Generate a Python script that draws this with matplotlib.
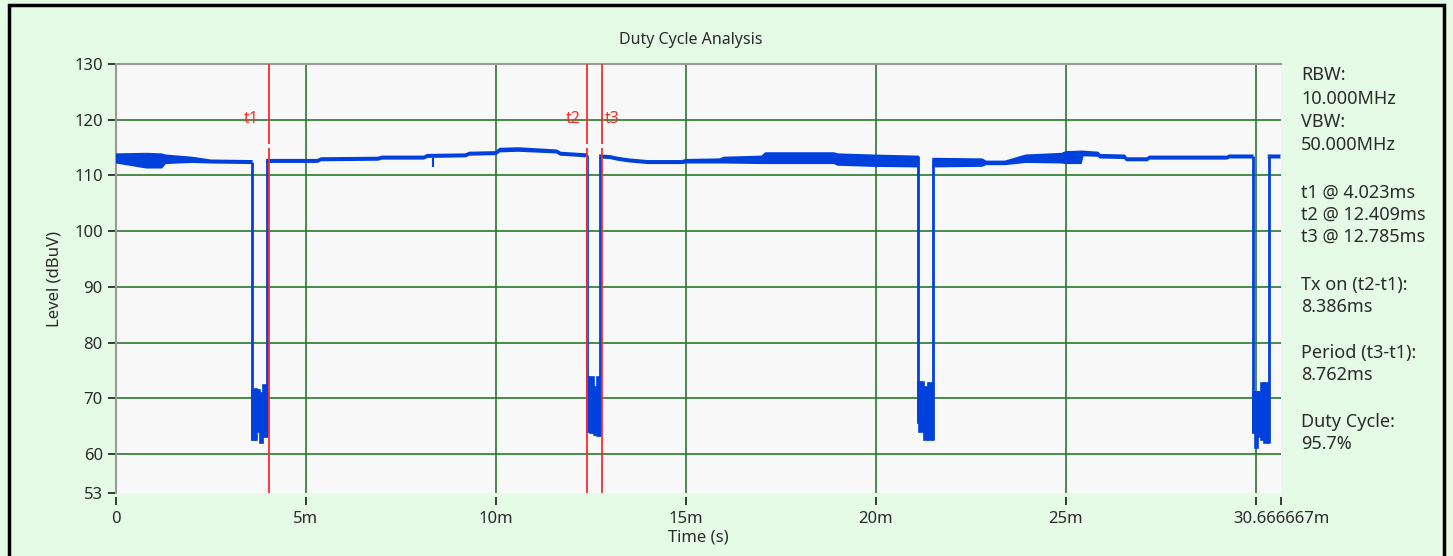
import numpy as np
import matplotlib.pyplot as plt
from matplotlib.patches import Rectangle

plt.rcParams['font.family'] = ['Noto Sans', 'DejaVu Sans']

# cursor positions (ms)
t1, t2, t3 = 4.023, 12.409, 12.785
rbw = '10.000MHz'
vbw = '50.000MHz'

x_ticks = [0, 5, 10, 15, 20, 25, 30, 30.666667]
x_labels = ['0', '5m', '10m', '15m', '20m', '25m', '', '30.666667m']
y_ticks = [53, 60, 70, 80, 90, 100, 110, 120, 130]
x_grid = [5, 10, 15, 20, 25, 30]
y_grid = [60, 70, 80, 90, 100, 110, 120]

nan = np.nan
# envelope of the trace while Tx is on (ms, dBuV); nan = gap at an off burst
trace_t = [0.0, 0.8, 1.2, 1.3, 2.0, 2.5, 3.575, 3.7,
           3.97, 5.3, 5.4, 6.9, 7.0, 8.1, 8.2, 9.2, 9.3, 10.0, 10.1, 10.6, 11.6, 11.7, 12.39, 12.5,
           12.74, 13.0, 13.2, 13.5, 14.0, 14.9, 15.0, 15.9, 16.0, 17.0, 17.1, 18.9, 19.0, 19.9, 21.11, 21.3,
           21.51, 22.8, 22.9, 23.4, 23.95, 24.9, 25.0, 25.4, 25.45, 25.85, 25.9, 26.55, 26.6, 27.15, 27.2,
           29.25, 29.3, 29.92, 30.1,
           30.34, 30.63]
trace_hi = [113.8, 113.9, 113.8, 113.6, 113.2, 112.7, 112.6, nan,
            112.8, 112.8, 113.1, 113.2, 113.4, 113.4, 113.7, 113.8, 114.1, 114.2, 114.8, 114.9, 114.5, 114.1, 113.8, nan,
            113.6, 113.5, 113.2, 112.9, 112.6, 112.6, 112.8, 112.9, 113.2, 113.4, 114.0, 114.0, 113.8, 113.6, 113.4, nan,
            113.0, 112.9, 112.5, 112.5, 113.6, 113.9, 114.2, 114.3, 114.3, 114.1, 113.7, 113.6, 113.1, 113.1, 113.4,
            113.4, 113.6, 113.6, nan,
            113.6, 113.6]
trace_lo = [112.3, 111.4, 111.4, 112.2, 112.4, 112.3, 112.2, nan,
            112.4, 112.4, 112.7, 112.8, 113.0, 113.0, 113.3, 113.4, 113.7, 113.8, 114.3, 114.4, 114.1, 113.7, 113.4, nan,
            113.2, 113.1, 112.8, 112.5, 112.2, 112.2, 112.3, 112.3, 112.3, 112.2, 112.2, 112.2, 111.9, 111.7, 111.6, nan,
            111.6, 111.7, 112.0, 112.0, 112.4, 112.3, 112.2, 112.2, 113.6, 113.5, 113.2, 113.1, 112.7, 112.7, 113.0,
            113.0, 113.2, 113.2, nan,
            113.2, 113.2]

# off bursts: falling / rising edge times and levels
fall_t = [3.575, 12.39, 21.11, 29.92]
rise_t = [3.97, 12.74, 21.51, 30.34]
fall_top = [112.5, 113.7, 113.4, 113.5]
rise_top = [112.7, 113.5, 113.0, 113.5]

# noisy floor inside each off burst (step starts, last entry = burst end)
dip_t = [[3.575, 3.65, 3.71, 3.79, 3.86, 3.97],
         [12.39, 12.48, 12.57, 12.65, 12.74],
         [21.11, 21.15, 21.28, 21.37, 21.51],
         [29.92, 29.99, 30.07, 30.13, 30.23, 30.34]]
dip_top = [[71.5, 71.7, 71.5, 71.0, 72.4],
           [73.9, 73.9, 72.1, 73.9],
           [73.0, 73.0, 72.1, 72.7],
           [71.2, 71.2, 71.2, 72.7, 72.7]]
dip_bot = [[62.5, 62.5, 64.0, 62.0, 63.0],
           [64.0, 63.8, 63.5, 63.2],
           [65.5, 64.0, 62.5, 62.5],
           [63.8, 61.1, 63.0, 62.5, 62.0]]

spike_t = [8.35]
spike_lo = [111.6]
spike_hi = [113.2]

blue = '#0040dd'
green = '#2a7a2a'
red = '#ff2a2a'
txt = '#2b2b2b'

fig = plt.figure(figsize=(14.53, 5.56), dpi=100, facecolor='#e6fbe6')
ax = fig.add_axes([116/1453, 1 - 493/556, (1281-116)/1453, (493-64)/556])
ax.set_facecolor('#f8f8f8')

for x in x_grid:
    ax.axvline(x, color=green, lw=1.2, zorder=1)
for y in y_grid:
    ax.axhline(y, color=green, lw=1.2, zorder=1)

ax.fill_between(trace_t, trace_lo, trace_hi, color=blue, lw=0, zorder=3)
ax.plot(trace_t, trace_hi, color=blue, lw=1.3, zorder=3)
ax.plot(trace_t, trace_lo, color=blue, lw=1.3, zorder=3)
ax.vlines(spike_t, spike_lo, spike_hi, color=blue, lw=1.5, zorder=3)

for i in range(len(fall_t)):
    starts = np.array(dip_t[i][:-1])
    widths = np.diff(dip_t[i])
    tops = np.array(dip_top[i])
    bots = np.array(dip_bot[i])
    ax.bar(starts, tops - bots, width=widths, bottom=bots, align='edge',
           color=blue, edgecolor=blue, lw=1.2, zorder=3)
    ax.vlines(fall_t[i], bots[0], fall_top[i], color=blue, lw=2, zorder=3)
    ax.vlines(rise_t[i], bots[-1], rise_top[i], color=blue, lw=2, zorder=3)

# cursors, with the little break just above the trace
for t, name, dx, ha in [(t1, 't1', -7, 'right'), (t2, 't2', -5, 'right'), (t3, 't3', 2, 'left')]:
    ax.vlines(t, 53, 114.9, color=red, lw=1.3, zorder=4)
    ax.vlines(t, 115.6, 130, color=red, lw=1.3, zorder=4)
    ax.annotate(name, xy=(t, 120.1), xytext=(dx, 0), textcoords='offset points',
                ha=ha, va='center', color=red, fontsize=11.5)

ax.set_xlim(0, 30.666667)
ax.set_ylim(53, 130)
ax.set_xticks(x_ticks)
ax.set_xticklabels(x_labels)
ax.set_yticks(y_ticks)
ax.tick_params(axis='both', colors=txt, labelsize=12, length=6, width=1.3)
ax.tick_params(axis='x', pad=4)
for s in ['right', 'bottom']:
    ax.spines[s].set_visible(False)
for s in ['left', 'top']:
    ax.spines[s].set_color('#999999')
    ax.spines[s].set_linewidth(1.5)
ax.spines['bottom'].set_position(('outward', 3))

ax.set_xlabel('Time (s)', fontsize=12, color=txt, labelpad=2)
ax.set_ylabel('Level (dBuV)', fontsize=12, color=txt, labelpad=8)
fig.text(691/1453, 1 - 40/556, 'Duty Cycle Analysis', ha='center', va='center', fontsize=11.5, color=txt)

# readout panel
tx_on = t2 - t1
period = t3 - t1
duty = tx_on / period * 100
panel = [('RBW:', 75), (rbw, 99), ('VBW:', 122), (vbw, 145),
         (f't1 @ {t1:.3f}ms', 193), (f't2 @ {t2:.3f}ms', 215), (f't3 @ {t3:.3f}ms', 237),
         ('Tx on (t2-t1):', 285), (f'{tx_on:.3f}ms', 307),
         ('Period (t3-t1):', 353), (f'{period:.3f}ms', 375),
         ('Duty Cycle:', 422), (f'{duty:.1f}%', 444)]
for s, py in panel:
    fig.text(1301/1453, 1 - py/556, s, ha='left', va='center', fontsize=13, color=txt)

fig.patches.append(Rectangle((9/1453, -0.2), (1444-9)/1453, 1.2 - 5/556,
                             transform=fig.transFigure, fill=False, ec='black', lw=2.5))

fig.savefig('out.png', dpi=100, facecolor=fig.get_facecolor())
